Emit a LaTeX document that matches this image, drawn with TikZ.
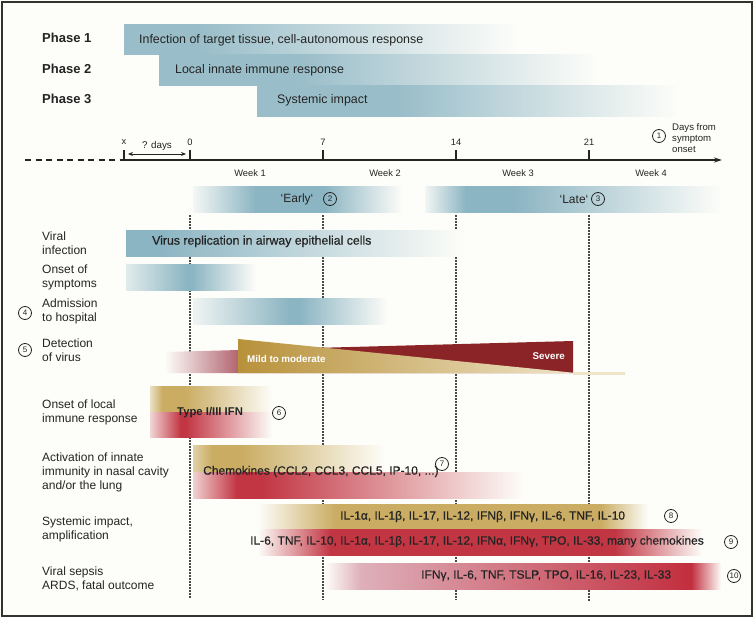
\documentclass[tikz,border=0pt]{standalone}
\usepackage{fontspec}
\setmainfont{Liberation Sans}
\usetikzlibrary{arrows.meta}
\definecolor{bg}{RGB}{253,253,249}
\definecolor{pblue}{RGB}{140,181,195}
\definecolor{gold}{RGB}{202,172,98}
\definecolor{mildgold}{RGB}{184,145,58}
\definecolor{mildlight}{RGB}{238,228,200}
\definecolor{bred}{RGB}{194,54,68}
\definecolor{sred}{RGB}{194,46,62}
\definecolor{pinkish}{RGB}{222,176,186}
\definecolor{mauve}{RGB}{178,100,112}
\definecolor{maroon}{RGB}{138,36,39}
\definecolor{txt}{RGB}{36,36,36}
\definecolor{dotc}{RGB}{72,72,72}
\definecolor{framec}{RGB}{50,50,50}
\newcommand\fadebar[8]{%
 \shade[left color=#7!#8!bg,right color=#7] (#1,#5) rectangle ({#2+0.6},#6);
 \shade[left color=#7,right color=#7] (#2,#5) rectangle ({#3+0.6},#6);
 \shade[left color=#7,right color=bg] (#3,#5) rectangle (#4,#6);}
\newcommand\fadeout[6]{%
 \shade[left color=#6,right color=#6] (#1,#4) rectangle ({#2+0.6},#5);
 \shade[left color=#6,right color=bg] (#2,#4) rectangle (#3,#5);}
\begin{document}
\begin{tikzpicture}[x=1pt,y=-1pt,
  every node/.style={text=txt,inner sep=0pt},
  phase/.style={font=\fontsize{13}{14}\selectfont\bfseries,anchor=mid west},
  bartext/.style={font=\fontsize{12.4}{14}\selectfont,anchor=mid west},
  medtext/.style={font=\fontsize{12}{14}\selectfont\addfontfeature{FakeBold=0.6},anchor=mid west},
  rowlabel/.style={font=\fontsize{12}{14}\selectfont,align=left,anchor=west},
  small/.style={font=\fontsize{9.3}{11}\selectfont},
  tag/.style={font=\fontsize{12}{13}\selectfont},
  num/.style={circle,draw=txt,line width=0.8pt,minimum size=13pt,font=\fontsize{8}{9}\selectfont},
  dotline/.style={dotc,line width=1.8pt,dash pattern=on 1.5pt off 1.5pt},
  axisline/.style={line width=1.3pt,draw=txt},
  whitebold/.style={text=white,font=\fontsize{9.8}{11}\selectfont\bfseries}]
\fill[bg] (0,0) rectangle (756,618);
\useasboundingbox (0,0) rectangle (756,618);
\draw[line width=1.5pt,draw=framec] (2,2) rectangle (752,616);
% phases
\fadeout{124}{200}{518}{25}{55}{pblue!88!bg}
\fadeout{159}{300}{598}{55}{86}{pblue!88!bg}
\fadeout{257}{400}{678}{86}{117}{pblue!88!bg}
\node[phase] (p1) at (42,40) {Phase 1};
\node[phase] (p2) at (42,71) {Phase 2};
\node[phase] (p3) at (42,101) {Phase 3};
\node[bartext] (t1) at (139,41) {Infection of target tissue, cell-autonomous response};
\node[bartext] (t2) at (175,71) {Local innate immune response};
\node[bartext] (t3) at (277,101) {Systemic impact};
% axis
\coordinate (ax0) at (25,160);
\coordinate (axx) at (124,160);
\coordinate (a0) at (190,160);
\coordinate (a7) at (323,160);
\coordinate (a14) at (456,160);
\coordinate (a21) at (589,160);
\coordinate (aend) at (722,160);
\draw[axisline,dash pattern=on 6pt off 4.5pt] (ax0) -- (axx);
\draw[axisline,-{Stealth[length=8pt,width=5pt]}] (axx) -- (aend);
\foreach \c in {axx,a0,a7,a14,a21} \draw[axisline] (\c) -- ++(0,-10);
\node[small] (lx) at (124,142) {x};
\node[small] (l0) at (190,142) {0};
\node[small] (l7) at (323,142) {7};
\node[small] (l14) at (456,142) {14};
\node[small] (l21) at (589,142) {21};
\node[small,font=\fontsize{9.8}{11}\selectfont] (qd) at (157,146) {? days};
\coordinate (qdl) at (128,154);
\coordinate (qdr) at (186,154);
\draw[line width=0.9pt,draw=txt,{Stealth[length=5pt,width=4pt]}-{Stealth[length=5pt,width=4pt]}] (qdl) -- (qdr);
\node[num] (c1) at (659,136) {1};
\node[small,font=\fontsize{9.6}{11}\selectfont,align=left,anchor=west] (days) at (672,138) {Days from\\symptom\\onset};
\node[small] (w1) at (250,173) {Week 1};
\node[small] (w2) at (385,173) {Week 2};
\node[small] (w3) at (518,173) {Week 3};
\node[small] (w4) at (651,173) {Week 4};
% early / late
\fadebar{193}{255}{325}{402}{186}{212}{pblue}{8}
\fadebar{425}{465}{515}{721}{186}{212}{pblue}{10}
\node[tag] (early) at (297,199) {‘Early‘};
\node[num] (c2) at (330,199) {2};
\node[tag] (late) at (574,199) {‘Late‘};
\node[num] (c3) at (598,199) {3};
% dotted lines
\foreach \x/\e in {190/598,323/600,456/600,589/602} {
  \coordinate (dt\x) at (\x,215);
  \coordinate (db\x) at (\x,\e);
  \draw[dotline] (dt\x) -- (db\x);}
% row labels
\node[rowlabel] (r1) at (42,243) {Viral\\infection};
\node[rowlabel] (r2) at (42,277.5) {Onset of\\symptoms};
\node[rowlabel] (r3) at (42,311.5) {Admission\\to hospital};
\node[num] (c4) at (25,313) {4};
\node[rowlabel] (r4) at (42,350.5) {Detection\\of virus};
\node[num] (c5) at (25,350) {5};
\node[rowlabel] (r5) at (42,412) {Onset of local\\immune response};
\node[rowlabel] (r6) at (42,472) {Activation of innate\\immunity in nasal cavity\\and/or the lung};
\node[rowlabel] (r7) at (42,529.5) {Systemic impact,\\amplification};
\node[rowlabel] (r8) at (42,579) {Viral sepsis\\ARDS, fatal outcome};
% virus replication
\fadeout{126}{160}{465}{230}{256}{pblue}
\node[medtext,font=\fontsize{12.3}{14}\selectfont\addfontfeature{FakeBold=0.6}] (vr) at (152,242) {Virus replication in airway epithelial cells};
% symptoms, admission
\fadebar{126}{186}{192}{256}{264}{290}{pblue}{25}
\fadebar{193}{288}{300}{388}{298}{324}{pblue}{12}
% detection
\begin{scope}
\clip (165,352) -- (573,341) -- (573,373) -- (165,373) -- cycle;
\shade[left color=bg,right color=mauve] (165,335) rectangle (238.6,380);
\shade[left color=mauve,right color=maroon] (238,335) rectangle (300.6,380);
\shade[left color=maroon,right color=maroon] (300,335) rectangle (580,380);
\end{scope}
\shade[left color=mildgold,right color=mildlight] (238,339) -- (238,373) -- (576,373) -- cycle;
\shade[left color=mildlight,right color=mildlight] (573,372.6) rectangle (625,374);
\node[whitebold,anchor=mid west] (mild) at (247,360) {Mild to moderate};
\node[whitebold,anchor=mid east] (severe) at (565,357) {Severe};
% type I/III IFN
\fadebar{150}{162}{185}{272}{386}{412}{gold}{35}
\fadebar{150}{180}{186}{272}{412}{437}{bred}{20}
\node[font=\fontsize{11.3}{13}\selectfont\bfseries,anchor=mid west] (ifn) at (177,413) {Type I/III IFN};
\node[num] (c6) at (279,413) {6};
% chemokines
\fadebar{193}{212}{240}{385}{445}{472}{gold}{55}
\fadebar{193}{236}{262}{523}{472}{498}{bred}{22}
\node[medtext] (chem) at (203,472) {Chemokines (CCL2, CCL3, CCL5, IP-10, ...)};
\node[num] (c7) at (442,464) {7};
% systemic
\fadebar{258}{335}{600}{648}{504}{529}{gold}{0}
\fadebar{258}{330}{615}{702}{529}{555}{bred}{0}
\node[medtext] (sys1) at (340,517) {IL-1α, IL-1β, IL-17, IL-12, IFNβ, IFNγ, IL-6, TNF, IL-10};
\node[num] (c8) at (671,516) {8};
\node[medtext] (sys2) at (250,542) {IL-6, TNF, IL-10, IL-1α, IL-1β, IL-17, IL-12, IFNα, IFNγ, TPO, IL-33, many chemokines};
\node[num] (c9) at (731,542) {9};
% sepsis
\shade[left color=bg,right color=pinkish] (325,563) rectangle (360.6,589);
\shade[left color=pinkish,right color=sred] (360,563) rectangle (691.6,589);
\shade[left color=sred,right color=bg] (691,563) rectangle (721,589);
\node[medtext] (sep) at (421,576) {IFNγ, IL-6, TNF, TSLP, TPO, IL-16, IL-23, IL-33};
\node[num] (c10) at (734,576) {10};
\end{tikzpicture}
\end{document}
